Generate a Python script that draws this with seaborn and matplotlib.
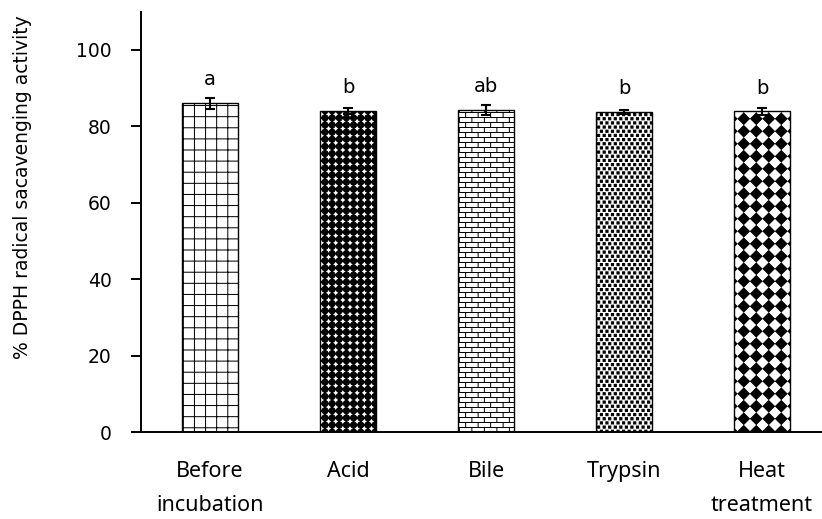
import warnings
warnings.filterwarnings('ignore')
import numpy as np
import pandas as pd
import matplotlib
matplotlib.use('Agg')
import matplotlib.pyplot as plt
import matplotlib.hatch as mhatch
from matplotlib.path import Path
import seaborn as sns

# ---------------- data ----------------
categories = ["Before\nincubation", "Acid", "Bile", "Trypsin", "Heat\ntreatment"]
values = [86.0, 84.0, 84.4, 83.7, 83.9]
errors = [1.4, 0.7, 1.3, 0.5, 1.0]
letters = ["a", "b", "ab", "b", "b"]
y_ticks = [0, 20, 40, 60, 80, 100]
y_label = "% DPPH radical sacavenging activity"

# ---------------- custom hatch tiles (pixel units, 100 px tile at dpi 100) ----------------
U = 100.0


def _poly(pts):
    v = list(pts) + [pts[0]]
    c = [Path.MOVETO] + [Path.LINETO] * (len(pts) - 1) + [Path.CLOSEPOLY]
    return v, c


def _circle(cx, cy, r, n=16):
    t = np.linspace(0, 2 * np.pi, n, endpoint=False)
    return _poly([(cx + r * np.cos(a), cy + r * np.sin(a)) for a in t])


def _seg(x0, y0, x1, y1):
    return [(x0, y0), (x1, y1)], [Path.MOVETO, Path.LINETO]


def _join(parts):
    v, c = [], []
    for pv, pc in parts:
        v += pv
        c += pc
    return np.array(v, float) / U, np.array(c, dtype=Path.code_type)


def tile_grid():
    p = U / 9
    parts = []
    for i in range(9):
        parts.append(_seg((i + 0.5) * p, -1, (i + 0.5) * p, U + 1))
        parts.append(_seg(-1, (i + 0.5) * p, U + 1, (i + 0.5) * p))
    return _join(parts)


def tile_brick():
    w, h = U / 8, U / 20
    parts = []
    for j in range(20):
        parts.append(_seg(-1, (j + 0.5) * h, U + 1, (j + 0.5) * h))
    for j in range(-1, 20):
        off = (w / 2 if j % 2 else 0) + w / 4
        for i in range(-1, 9):
            x = i * w + off
            if -1 <= x <= U + 1:
                parts.append(_seg(x, (j + 0.5) * h, x, (j + 1.5) * h))
    return _join(parts)


def tile_spheres():
    p = U / 14
    parts = []
    for i in range(14):
        parts.append(_seg((i + 0.5) * p, -1, (i + 0.5) * p, U + 1))
        parts.append(_seg(-1, (i + 0.5) * p, U + 1, (i + 0.5) * p))
    for i in range(14):
        for j in range(14):
            parts.append(_circle((i + 0.5) * p, (j + 0.5) * p, 3.1))
    return _join(parts)


def tile_confetti():
    px, py = U / 18, U / 24
    s = 1.1
    parts = []
    for j in range(24):
        y = (j + 0.5) * py
        off = (px / 2 if j % 2 else 0) + px / 4
        for i in range(-1, 19):
            x = i * px + off
            if -2 <= x <= U + 2:
                parts.append(_poly([(x - s, y - s), (x + s, y - s), (x + s, y + s), (x - s, y + s)]))
    return _join(parts)


def tile_diamond():
    p = U / 8
    d = 5.7
    parts = []
    for i in range(8):
        for j in range(8):
            cx, cy = (i + 0.5) * p, (j + 0.5) * p
            parts.append(_poly([(cx, cy - d), (cx + d, cy), (cx, cy + d), (cx - d, cy)]))
    return _join(parts)


class PixelHatch(mhatch.HatchPatternBase):
    tiles = {}

    def __init__(self, hatch, density):
        self.parts = [self.tiles[ch] for ch in dict.fromkeys(hatch) if ch in self.tiles]
        self.num_vertices = sum(len(p[0]) for p in self.parts)

    def set_vertices_and_codes(self, vertices, codes):
        i = 0
        for v, c in self.parts:
            n = len(v)
            vertices[i:i + n] = v
            codes[i:i + n] = c
            i += n


PixelHatch.tiles = {'g': tile_grid(), 'a': tile_spheres(), 'b': tile_brick(),
                    't': tile_confetti(), 'h': tile_diamond()}
mhatch._hatch_types.append(PixelHatch)

# ---------------- plot ----------------
sns.set_style('white')
plt.rcParams['font.family'] = ['DejaVu Sans']
plt.rcParams['text.color'] = 'black'
plt.rcParams['xtick.color'] = 'black'
plt.rcParams['ytick.color'] = 'black'
plt.rcParams['axes.labelcolor'] = 'black'
plt.rcParams['hatch.linewidth'] = 0.72
plt.rcParams['hatch.color'] = 'black'

fig = plt.figure(figsize=(8.22, 5.19), dpi=100)
ax = fig.add_axes([141 / 822, (519 - 432.3) / 519, 690 / 822, 420.6 / 519])

df = pd.DataFrame({'cat': categories, 'val': values})
sns.barplot(data=df, x='cat', y='val', color='white', edgecolor='black',
            linewidth=1.0, width=0.41, errorbar=None, ax=ax, zorder=2)

hatches = ['g', 'a', 'b', 't', 'h']
for patch, h in zip(ax.patches, hatches):
    patch.set_facecolor('white')
    patch.set_edgecolor('black')
    patch.set_hatch(h)

xpos = np.arange(len(values))
ax.errorbar(xpos, values, yerr=errors, fmt='none', ecolor='black',
            elinewidth=1.5, capsize=3.5, capthick=1.5, zorder=5)

for i, (v, lab) in enumerate(zip(values, letters)):
    ax.text(xpos[i], v + 4.7, lab, ha='center', va='baseline', fontsize=14,
            color='black')

ax.set_xlim(-0.5, 4.5)
ax.set_ylim(0, 110)
ax.set_yticks(y_ticks)
ax.tick_params(axis='y', length=7.2, width=1.4, direction='out', pad=14,
               labelsize=13.5, colors='black', left=True)
ax.tick_params(axis='x', length=0, pad=21, colors='black')
ax.set_xticks(xpos)
ax.set_xticklabels(categories, fontsize=15.5, family=['Noto Sans', 'DejaVu Sans'],
                   linespacing=1.8, color='black')
for s in ['top', 'right']:
    ax.spines[s].set_visible(False)
for s in ['left', 'bottom']:
    ax.spines[s].set_linewidth(1.4)
    ax.spines[s].set_color('black')
ax.set_xlabel('')
ax.set_ylabel('')

fig.text(23 / 822, (519 - 187) / 519, y_label, rotation=90, ha='center',
         va='center', fontsize=13.5, color='black')

fig.savefig('out.png', dpi=100)
